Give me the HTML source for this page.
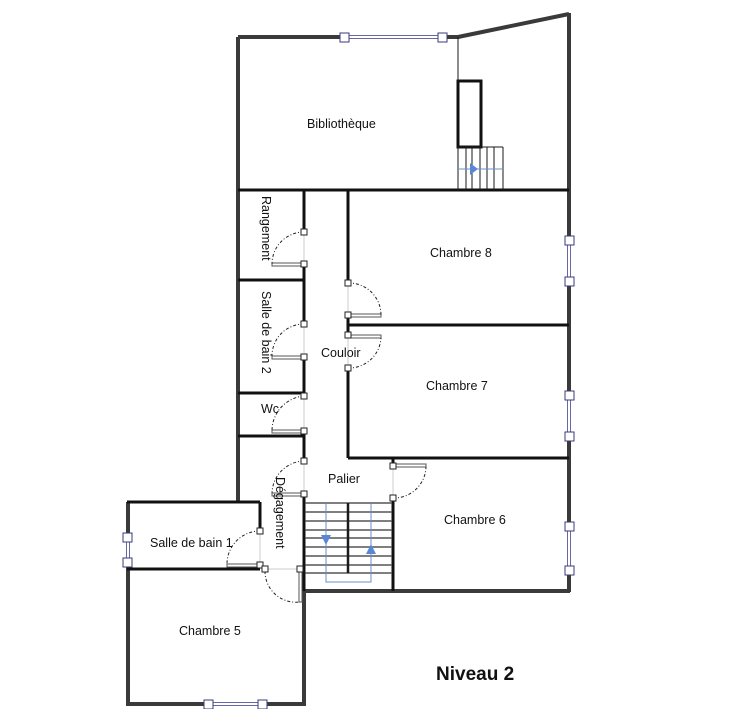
<!DOCTYPE html>
<html><head><meta charset="utf-8"><style>
html,body{margin:0;padding:0;background:#fff;}
svg{display:block;}
text{font-family:"Liberation Sans","DejaVu Sans",sans-serif;font-size:12.5px;fill:#111;}
</style></head><body>
<svg width="737" height="709" viewBox="0 0 737 709" xmlns="http://www.w3.org/2000/svg">
<rect width="737" height="709" fill="#fff"/>
<g fill="none" stroke="#1a1a1a">
<g stroke="#3a3a3a" stroke-width="4">
<line x1="238" y1="37" x2="238" y2="503"/>
<line x1="238" y1="37" x2="458" y2="37"/>
<line x1="458" y1="37" x2="569" y2="14"/>
<line x1="569" y1="13" x2="569" y2="592"/>
<line x1="304" y1="591" x2="570" y2="591"/>
<line x1="128" y1="502" x2="128" y2="705"/>
<line x1="126" y1="704" x2="306" y2="704"/>
<line x1="304" y1="590" x2="304" y2="705"/>
</g>
<g stroke="#111" stroke-width="3">
<line x1="238" y1="190" x2="569" y2="190"/>
<line x1="348" y1="190" x2="348" y2="283"/>
<line x1="348" y1="315" x2="348" y2="335"/>
<line x1="348" y1="368" x2="348" y2="458"/>
<line x1="348" y1="325" x2="569" y2="325"/>
<line x1="348" y1="458" x2="569" y2="458"/>
<line x1="393" y1="498" x2="393" y2="591"/>
<line x1="393" y1="458" x2="393" y2="466"/>
<line x1="304" y1="190" x2="304" y2="232"/>
<line x1="304" y1="264" x2="304" y2="324"/>
<line x1="304" y1="357" x2="304" y2="396"/>
<line x1="304" y1="431" x2="304" y2="461"/>
<line x1="238" y1="280" x2="304" y2="280"/>
<line x1="238" y1="393" x2="304" y2="393"/>
<line x1="238" y1="436" x2="304" y2="436"/>
<line x1="127" y1="502" x2="260" y2="502"/>
<line x1="260" y1="502" x2="260" y2="531"/>
<line x1="127" y1="569" x2="260" y2="569"/>
<line x1="304" y1="494" x2="304" y2="591"/>
<rect x="458" y="81" width="23" height="66" stroke-width="3"/>
</g>
<line x1="458" y1="37" x2="458" y2="81" stroke-width="1"/>
<g stroke-width="1">
<line x1="458" y1="147" x2="503" y2="147"/>
<line x1="458" y1="147" x2="458" y2="190"/>
<line x1="466" y1="147" x2="466" y2="190"/>
<line x1="472" y1="147" x2="472" y2="190"/>
<line x1="480" y1="147" x2="480" y2="190"/>
<line x1="487" y1="147" x2="487" y2="190"/>
<line x1="494" y1="147" x2="494" y2="190"/>
<line x1="503" y1="147" x2="503" y2="190"/>
<line x1="458" y1="169" x2="503" y2="169" stroke="#6a8fd0"/>
</g>
<polygon points="470,163 478,169 470,175" fill="#5b86d6" stroke="none"/>
<g stroke="#555" stroke-width="1.5">
<line x1="305" y1="503" x2="392" y2="503"/>
<line x1="305" y1="512" x2="392" y2="512"/>
<line x1="305" y1="521" x2="392" y2="521"/>
<line x1="305" y1="530" x2="392" y2="530"/>
<line x1="305" y1="538" x2="392" y2="538"/>
<line x1="305" y1="547" x2="392" y2="547"/>
<line x1="305" y1="556" x2="392" y2="556"/>
<line x1="305" y1="565" x2="392" y2="565"/>
<line x1="305" y1="573" x2="392" y2="573"/>
</g>
<line x1="348" y1="503" x2="348" y2="573" stroke-width="2.5"/>
<g stroke="#6a8fd0" stroke-width="1">
<polyline points="326,503 326,582 371,582 371,503"/>
</g>
<polygon points="321,535 331,535 326,545" fill="#5b86d6" stroke="none"/>
<polygon points="366,554 376,554 371,544" fill="#5b86d6" stroke="none"/>
<g stroke="#ccc" stroke-width="1">
<line x1="304" y1="232" x2="304" y2="264"/>
<line x1="304" y1="324" x2="304" y2="357"/>
<line x1="304" y1="396" x2="304" y2="431"/>
<line x1="304" y1="461" x2="304" y2="494"/>
<line x1="348" y1="283" x2="348" y2="315"/>
<line x1="348" y1="335" x2="348" y2="368"/>
<line x1="393" y1="466" x2="393" y2="498"/>
<line x1="260" y1="531" x2="260" y2="566"/>
<line x1="265" y1="569" x2="300" y2="569"/>
</g>
<g stroke="#555" stroke-width="1" fill="#fff">
<rect x="272" y="263" width="32" height="3"/>
<rect x="272" y="356" width="32" height="3"/>
<rect x="272" y="430" width="32" height="3"/>
<rect x="272" y="493" width="32" height="3"/>
<rect x="348" y="314" width="33" height="3"/>
<rect x="348" y="335" width="33" height="3"/>
<rect x="393" y="464" width="33" height="3"/>
<rect x="227" y="564" width="33" height="3"/>
<rect x="299" y="569" width="3" height="33"/>
</g>
<g stroke="#222" stroke-width="1" stroke-dasharray="3,2,1,2">
<path d="M304,232 A32,32 0 0 0 272,264"/>
<path d="M304,324 A32,32 0 0 0 272,356"/>
<path d="M304,396 A35,35 0 0 0 272,430"/>
<path d="M304,461 A33,33 0 0 0 272,493"/>
<path d="M348,283 A32,32 0 0 1 381,315"/>
<path d="M348,368 A32,32 0 0 0 381,338"/>
<path d="M393,498 A32,32 0 0 0 426,467"/>
<path d="M260,531 A33,33 0 0 0 227,564"/>
<path d="M265,571 A31,31 0 0 0 300,602"/>
</g>
<!-- window gaps -->
<g fill="#fff" stroke="none">
<rect x="345" y="34" width="98" height="7"/>
<rect x="566" y="240" width="7" height="42"/>
<rect x="566" y="396" width="7" height="41"/>
<rect x="566" y="527" width="7" height="43"/>
<rect x="124" y="538" width="7" height="24"/>
<rect x="209" y="701" width="53" height="7"/>
</g>
<g stroke="#6868a8" stroke-width="1">
<line x1="345" y1="35.5" x2="443" y2="35.5"/><line x1="345" y1="38.5" x2="443" y2="38.5"/>
<line x1="567.5" y1="240" x2="567.5" y2="282"/><line x1="570.5" y1="240" x2="570.5" y2="282"/>
<line x1="567.5" y1="396" x2="567.5" y2="437"/><line x1="570.5" y1="396" x2="570.5" y2="437"/>
<line x1="567.5" y1="527" x2="567.5" y2="570"/><line x1="570.5" y1="527" x2="570.5" y2="570"/>
<line x1="126.5" y1="538" x2="126.5" y2="562"/><line x1="129.5" y1="538" x2="129.5" y2="562"/>
<line x1="209" y1="702.5" x2="262" y2="702.5"/><line x1="209" y1="705.5" x2="262" y2="705.5"/>
</g>
<g stroke="#3a3a7a" stroke-width="1" fill="#fff">
<rect x="340" y="33" width="9" height="9"/><rect x="438" y="33" width="9" height="9"/>
<rect x="565" y="236" width="9" height="9"/><rect x="565" y="277" width="9" height="9"/>
<rect x="565" y="391" width="9" height="9"/><rect x="565" y="432" width="9" height="9"/>
<rect x="565" y="522" width="9" height="9"/><rect x="565" y="566" width="9" height="9"/>
<rect x="123" y="533" width="9" height="9"/><rect x="123" y="558" width="9" height="9"/>
<rect x="204" y="700" width="9" height="9"/><rect x="258" y="700" width="9" height="9"/>
</g>
<g stroke="#222" stroke-width="1" fill="#fff">
<rect x="301" y="229" width="6" height="6"/><rect x="301" y="261" width="6" height="6"/>
<rect x="301" y="321" width="6" height="6"/><rect x="301" y="354" width="6" height="6"/>
<rect x="301" y="393" width="6" height="6"/><rect x="301" y="428" width="6" height="6"/>
<rect x="301" y="458" width="6" height="6"/><rect x="301" y="491" width="6" height="6"/>
<rect x="345" y="280" width="6" height="6"/><rect x="345" y="312" width="6" height="6"/>
<rect x="345" y="332" width="6" height="6"/><rect x="345" y="365" width="6" height="6"/>
<rect x="390" y="463" width="6" height="6"/><rect x="390" y="495" width="6" height="6"/>
<rect x="257" y="528" width="6" height="6"/><rect x="257" y="562" width="6" height="6"/>
<rect x="262" y="566" width="6" height="6"/><rect x="297" y="566" width="6" height="6"/>
</g>
</g>
<text x="307" y="128">Bibliothèque</text>
<text x="430" y="257">Chambre 8</text>
<text x="426" y="390">Chambre 7</text>
<text x="444" y="524">Chambre 6</text>
<text x="179" y="635">Chambre 5</text>
<text x="150" y="547">Salle de bain 1</text>
<text x="321" y="357">Couloir</text>
<text x="328" y="483">Palier</text>
<text x="261" y="413">Wc</text>
<text transform="translate(262,196) rotate(90)">Rangement</text>
<text transform="translate(262,291) rotate(90)">Salle de bain 2</text>
<text transform="translate(276,477) rotate(90)">Dégagement</text>
<text x="436" y="680" style="font-size:19px;font-weight:bold;">Niveau 2</text>
</svg>
</body></html>
